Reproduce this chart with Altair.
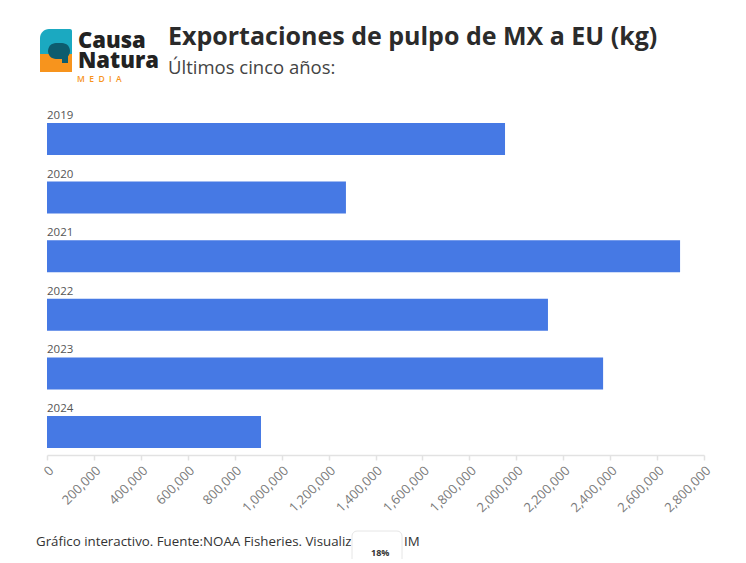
import altair as alt
import pandas as pd

years = ["2019", "2020", "2021", "2022", "2023", "2024"]
values = [1952000, 1274000, 2698000, 2135000, 2370000, 912000]
tick_values = [0, 200000, 400000, 600000, 800000, 1000000, 1200000, 1400000,
               1600000, 1800000, 2000000, 2200000, 2400000, 2600000, 2800000]

title_text = "Exportaciones de pulpo de MX a EU (kg)"
subtitle_text = "Últimos cinco años:"
footer_text = "Gráfico interactivo. Fuente:NOAA Fisheries. Visualiz"
footer_tail = "IM"
badge_text = "18%"

df = pd.DataFrame({"year": years, "value": values})
one = pd.DataFrame({"k": [0]})

yscale = alt.Scale(domain=years, paddingInner=0.454, paddingOuter=0.12)
xscale = alt.Scale(domain=[0, 2800000], nice=False)

bars = alt.Chart(df).mark_bar(color="#4679e4").encode(
    x=alt.X("value:Q", scale=xscale, title=None,
            axis=alt.Axis(values=tick_values, format=",d", labelAngle=-45,
                          labelFontSize=13, labelColor="#7a7a7a", labelFont="Open Sans",
                          domainColor="#e2e2e2", domainWidth=1.5, tickColor="#e2e2e2",
                          tickSize=5, tickWidth=1.5, grid=False, labelPadding=4,
                          labelOverlap=False, labelBound=False)),
    y=alt.Y("year:N", scale=yscale, axis=None, sort=years),
)

labels = alt.Chart(df).mark_text(align="left", baseline="alphabetic", dy=-20,
                                 fontSize=11.5, color="#555555", font="Open Sans").encode(
    x=alt.value(0),
    y=alt.Y("year:N", scale=yscale, axis=None, sort=years),
    text="year:N",
)

def txt(s, x, y, **kw):
    return alt.Chart(one).mark_text(text=s, align="left", baseline="alphabetic", **kw).encode(
        x=alt.value(x), y=alt.value(y))

def box(x, x2, y, y2, **kw):
    return alt.Chart(one).mark_rect(**kw).encode(
        x=alt.value(x), x2=alt.value(x2), y=alt.value(y), y2=alt.value(y2))

title = txt(title_text, 121, -71, fontSize=25, fontWeight="bold", color="#2b2b2b", font="Open Sans")
subtitle = txt(subtitle_text, 121, -42, fontSize=18.5, color="#444444", font="Open Sans")

# logo
logo_teal = box(-7, 25, -87, -62, color="#1ba9c1", cornerRadiusTopLeft=9, cornerRadiusTopRight=2)
logo_orange = box(-7, 25, -62, -44, color="#f7941d")
logo_bubble = box(1, 23, -73, -57, color="#0d5c6e", cornerRadius=8)
logo_tail = box(15, 21, -60, -53, color="#0d5c6e")
logo_c = txt("Causa", 31, -68, fontSize=22, fontWeight=800, color="#222222", font="Open Sans")
logo_n = txt("Natura", 31, -48, fontSize=22, fontWeight=800, color="#222222", font="Open Sans")
logo_m = txt("M\u00a0\u00a0E\u00a0\u00a0D\u00a0\u00a0I\u00a0\u00a0A", 30, -34, fontSize=8.5,
             fontWeight=600, color="#f7941d", font="Open Sans")

footer = txt(footer_text, -11, 430, fontSize=13.3, color="#333333", font="Open Sans")
footer2 = txt(footer_tail, 357, 430, fontSize=13.3, color="#333333", font="Open Sans")
badge = box(305, 355, 415, 452, color="#ffffff", stroke="#e6e6e6", strokeWidth=1, cornerRadius=5)
badge_t = txt(badge_text, 324, 440, fontSize=9, fontWeight="bold", color="#333333", font="Open Sans")

chart = alt.layer(
    bars, labels, title, subtitle, logo_teal, logo_orange, logo_bubble, logo_tail,
    logo_c, logo_n, logo_m, footer, footer2, badge, badge_t
).properties(
    width=657, height=339,
    autosize=alt.AutoSizeParams(type="none"),
    padding={"left": 39, "top": 108, "right": 20, "bottom": 104},
    background="#ffffff",
).configure_view(stroke=None)

chart.save("out.html", embed_options={"renderer": "svg", "actions": False})
